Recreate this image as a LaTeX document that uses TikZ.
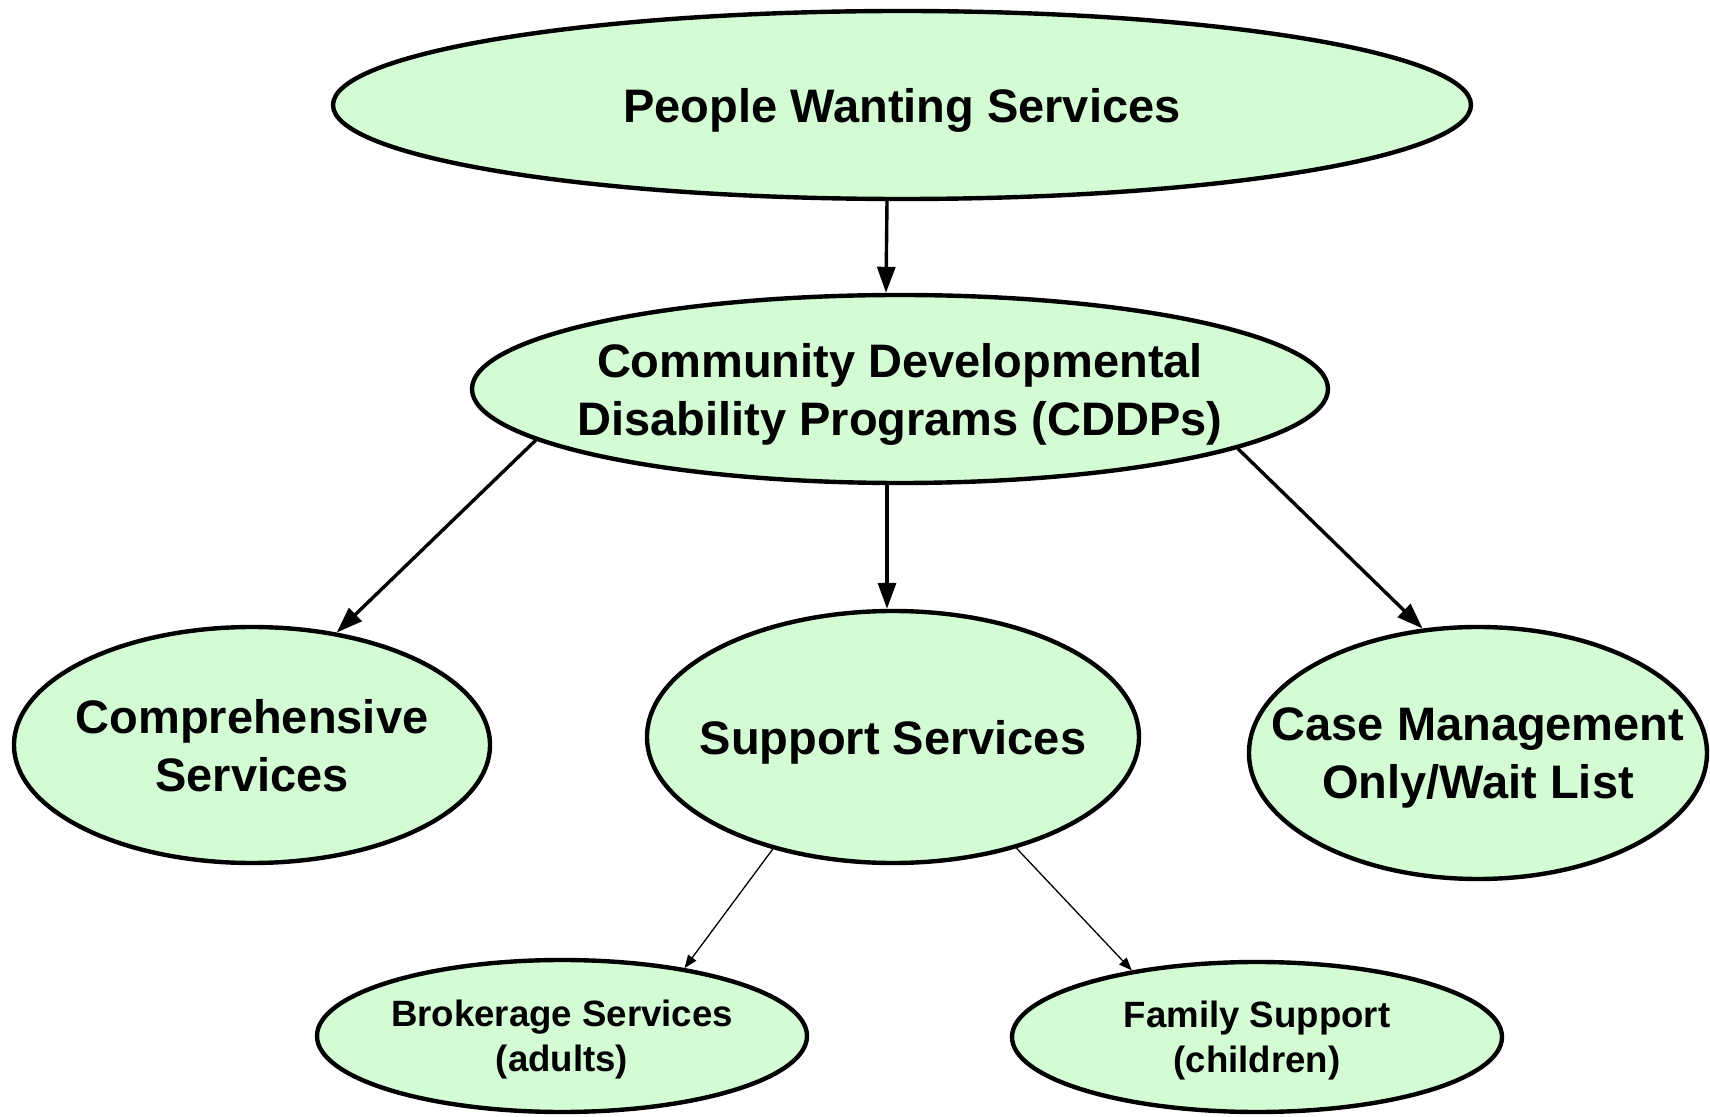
\documentclass[tikz,border=0pt]{standalone}
\usepackage{fontspec}
\setmainfont{Liberation Sans}
\usetikzlibrary{shapes.geometric,arrows.meta}
\definecolor{bubble}{RGB}{212,252,212}
\tikzset{
  bub/.style={ellipse, draw=black, fill=bubble, line width=2.2pt, inner xsep=-100pt, inner ysep=0pt, text depth=-4pt, align=center, font=\bfseries\fontsize{23.5}{29}\selectfont},
  smallbub/.style={bub, font=\bfseries\fontsize{18.3}{22.4}\selectfont},
  bigarrow/.style={line width=1.7pt, -{Triangle[length=13pt,width=9pt]}},
  smallarrow/.style={line width=0.65pt, -{Triangle[length=6.5pt,width=5pt]}}
}
\begin{document}
\begin{tikzpicture}[x=0.5pt,y=-0.5pt]
\useasboundingbox (0,0) rectangle (1710,1117);
\node[bub, minimum width=569pt, minimum height=94pt] (top) at (902,105) {People Wanting Services};
\node[bub, minimum width=428pt, minimum height=94pt] (cddp) at (900,389) {Community Developmental\\Disability Programs (CDDPs)};
\node[bub, minimum width=238pt, minimum height=118pt] (comp) at (252,745) {Comprehensive\\Services};
\node[bub, minimum width=246pt, minimum height=126pt] (supp) at (893,737) {Support Services};
\node[bub, minimum width=229pt, minimum height=126pt] (case) at (1478,753) {Case Management\\Only/Wait List};
\node[smallbub, minimum width=245pt, minimum height=76pt] (brok) at (562,1036) {Brokerage Services\\(adults)};
\node[smallbub, minimum width=245pt, minimum height=75pt] (fam) at (1257,1037) {Family Support\\(children)};
\draw[bigarrow] ([xshift=-7.5pt]top.south) -- ([xshift=-7pt]cddp.north);
\draw[bigarrow] ([xshift=-6.5pt]cddp.south) -- ([xshift=-3pt]supp.north);
\draw[bigarrow] (cddp.188) -- (comp.53);
\draw[bigarrow] (cddp.350) -- (case.114);
\draw[smallarrow] (supp.223) -- (brok.29);
\draw[smallarrow] (supp.318) -- (fam.152);
\end{tikzpicture}
\end{document}
